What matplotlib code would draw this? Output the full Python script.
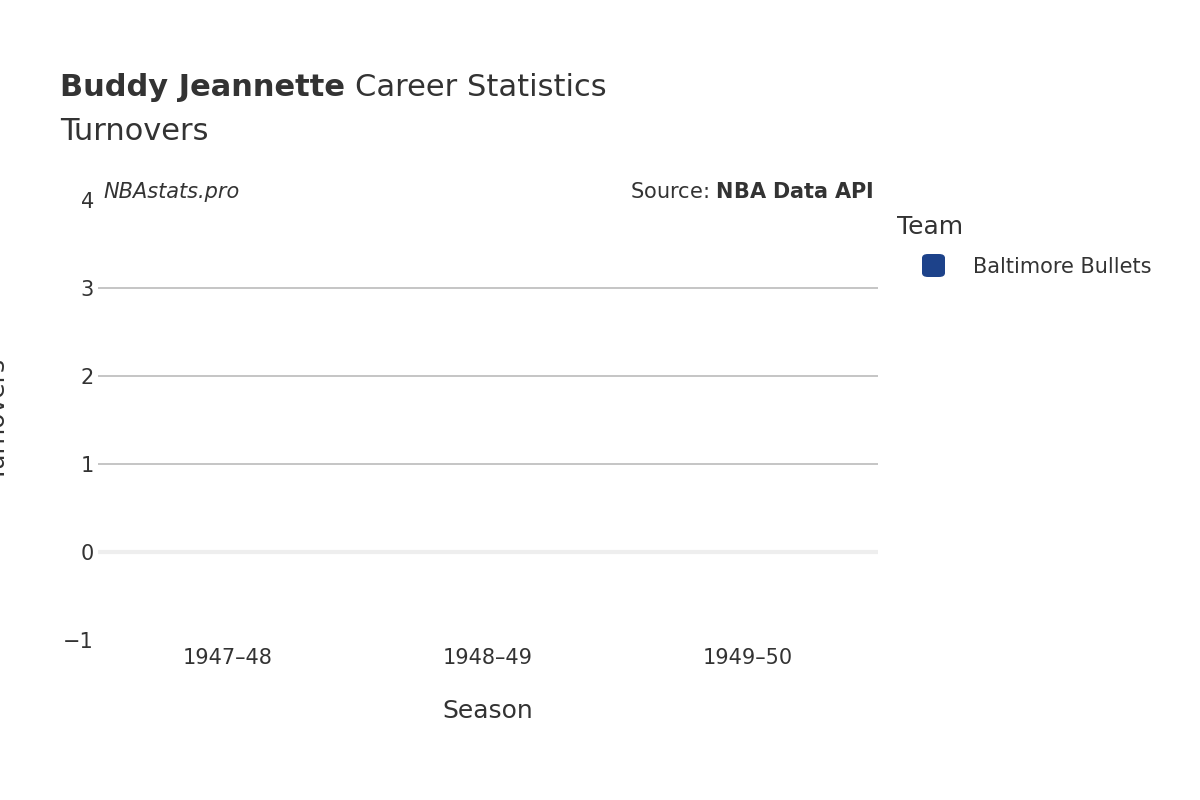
import matplotlib
matplotlib.use("Agg")
import matplotlib.pyplot as plt
import numpy as np
from matplotlib.patches import FancyBboxPatch

seasons = ["1947–48", "1948–49", "1949–50"]
turnovers = [np.nan, np.nan, np.nan]  # no turnover data recorded
team = "Baltimore Bullets"
team_color = "#1d428a"
yticks = [-1, 0, 1, 2, 3, 4]

plt.rcParams['font.family'] = ['DejaVu Sans']
fig = plt.figure(figsize=(12, 8), dpi=100)
ax = fig.add_axes([98/1200, 1-640/800, 780/1200, 440/800])
x = np.arange(len(seasons))
ax.plot(x, turnovers, color=team_color, marker='o')
ax.set_xlim(-0.5, len(seasons)-0.5)
ax.set_ylim(-1, 4)
ax.set_xticks(x)
ax.set_xticklabels(seasons, fontsize=15, color="#333333")
ax.set_yticks(yticks)
ax.set_yticklabels(["−1", "0", "1", "2", "3", "4"], fontsize=15, color="#333333")
ax.tick_params(length=0, pad=6)
ax.tick_params(axis='y', pad=3)
for s in ax.spines.values():
    s.set_visible(False)
for v in [1, 2, 3]:
    ax.axhline(v, color="#bbbbbb", lw=1.2, zorder=0)
ax.axhline(0, color="#eeeeee", lw=3, zorder=0)
ax.set_xlabel("Season", fontsize=18, color="#333333", labelpad=22)
ax.set_ylabel("Turnovers", fontsize=18, color="#333333", labelpad=38)

t1 = fig.text(60/1200, 1-88/800, "Buddy Jeannette", fontsize=22, fontweight='bold', color="#333333", va='center')
fig.canvas.draw()
bb = t1.get_window_extent(renderer=fig.canvas.get_renderer())
fig.text(bb.x1/1200 + 10/1200, 1-88/800, "Career Statistics", fontsize=22, color="#333333", va='center')
fig.text(60/1200, 1-132/800, "Turnovers", fontsize=22, color="#333333", va='center')
fig.text(103/1200, 1-192/800, "NBAstats.pro", fontsize=15, style='italic', color="#333333", va='center')
fig.text(874/1200, 1-192/800, r"Source: $\bf{NBA\ Data\ API}$", fontsize=15, color="#333333", va='center', ha='right')
fig.text(897/1200, 1-227/800, "Team", fontsize=18, color="#333333", va='center')
fig.patches.append(FancyBboxPatch((922/1200, 1-277/800), 23/1200, 23/800,
    boxstyle="round,pad=0,rounding_size=0.005", transform=fig.transFigure,
    facecolor=team_color, edgecolor='none'))
fig.text(973/1200, 1-267/800, team, fontsize=15, color="#333333", va='center')
fig.savefig("out.png", dpi=100)
